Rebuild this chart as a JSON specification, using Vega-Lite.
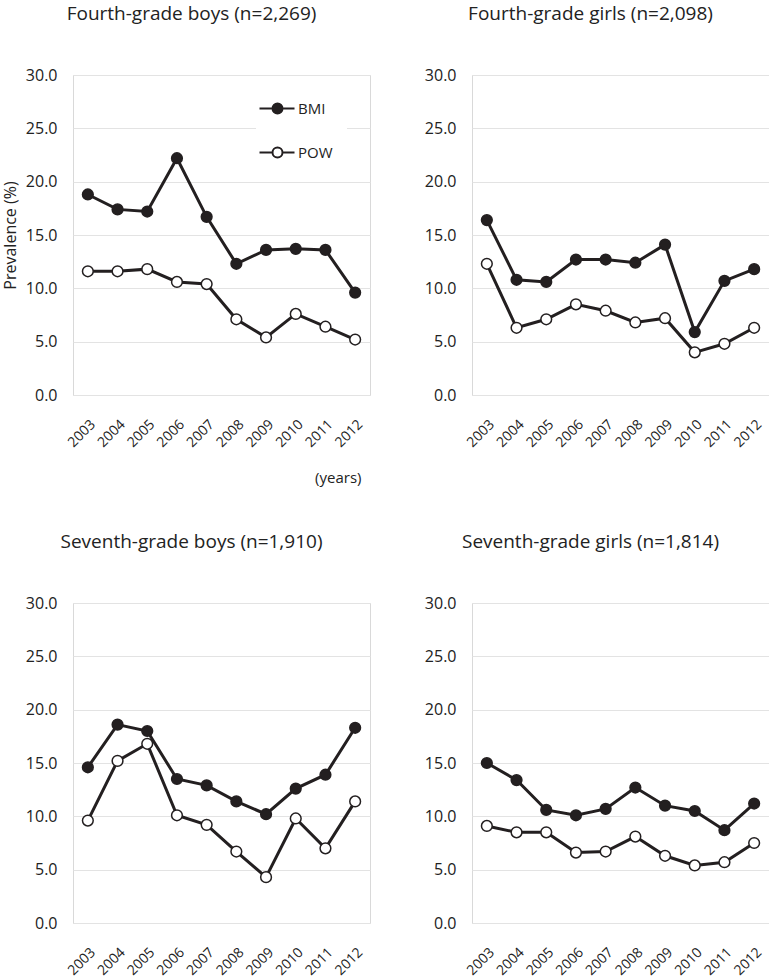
{
  "$schema": "https://vega.github.io/schema/vega-lite/v6.json",
  "padding": {"left": 1, "top": 4, "right": 1, "bottom": 0},
  "background": "white",
  "config": {
    "font": "Open Sans",
    "view": {"stroke": "#d9d9d9", "strokeWidth": 1},
    "title": {"fontSize": 19, "fontWeight": "normal", "color": "#222222", "anchor": "middle", "frame": "group", "dx": -30, "offset": 43, "baseline": "alphabetic"},
    "axis": {"labelFont": "Open Sans", "labelFontSize": 16, "labelColor": "#222222", "ticks": false, "domain": false, "titleFont": "Open Sans", "titleFontWeight": "normal", "titleFontSize": 16, "titleColor": "#222222"},
    "axisX": {"labelAngle": -45, "labelFontSize": 14, "grid": false, "labelPadding": 22},
    "axisY": {"gridColor": "#e3e3e3", "labelPadding": 16, "titlePadding": 7}
  },
  "data": {
    "values": [
      {"panel": "4B", "measure": "BMI", "year": "2003", "value": 18.8},
      {"panel": "4B", "measure": "BMI", "year": "2004", "value": 17.4},
      {"panel": "4B", "measure": "BMI", "year": "2005", "value": 17.2},
      {"panel": "4B", "measure": "BMI", "year": "2006", "value": 22.2},
      {"panel": "4B", "measure": "BMI", "year": "2007", "value": 16.7},
      {"panel": "4B", "measure": "BMI", "year": "2008", "value": 12.3},
      {"panel": "4B", "measure": "BMI", "year": "2009", "value": 13.6},
      {"panel": "4B", "measure": "BMI", "year": "2010", "value": 13.7},
      {"panel": "4B", "measure": "BMI", "year": "2011", "value": 13.6},
      {"panel": "4B", "measure": "BMI", "year": "2012", "value": 9.6},
      {"panel": "4B", "measure": "POW", "year": "2003", "value": 11.6},
      {"panel": "4B", "measure": "POW", "year": "2004", "value": 11.6},
      {"panel": "4B", "measure": "POW", "year": "2005", "value": 11.8},
      {"panel": "4B", "measure": "POW", "year": "2006", "value": 10.6},
      {"panel": "4B", "measure": "POW", "year": "2007", "value": 10.4},
      {"panel": "4B", "measure": "POW", "year": "2008", "value": 7.1},
      {"panel": "4B", "measure": "POW", "year": "2009", "value": 5.4},
      {"panel": "4B", "measure": "POW", "year": "2010", "value": 7.6},
      {"panel": "4B", "measure": "POW", "year": "2011", "value": 6.4},
      {"panel": "4B", "measure": "POW", "year": "2012", "value": 5.2},
      {"panel": "4G", "measure": "BMI", "year": "2003", "value": 16.4},
      {"panel": "4G", "measure": "BMI", "year": "2004", "value": 10.8},
      {"panel": "4G", "measure": "BMI", "year": "2005", "value": 10.6},
      {"panel": "4G", "measure": "BMI", "year": "2006", "value": 12.7},
      {"panel": "4G", "measure": "BMI", "year": "2007", "value": 12.7},
      {"panel": "4G", "measure": "BMI", "year": "2008", "value": 12.4},
      {"panel": "4G", "measure": "BMI", "year": "2009", "value": 14.1},
      {"panel": "4G", "measure": "BMI", "year": "2010", "value": 5.9},
      {"panel": "4G", "measure": "BMI", "year": "2011", "value": 10.7},
      {"panel": "4G", "measure": "BMI", "year": "2012", "value": 11.8},
      {"panel": "4G", "measure": "POW", "year": "2003", "value": 12.3},
      {"panel": "4G", "measure": "POW", "year": "2004", "value": 6.3},
      {"panel": "4G", "measure": "POW", "year": "2005", "value": 7.1},
      {"panel": "4G", "measure": "POW", "year": "2006", "value": 8.5},
      {"panel": "4G", "measure": "POW", "year": "2007", "value": 7.9},
      {"panel": "4G", "measure": "POW", "year": "2008", "value": 6.8},
      {"panel": "4G", "measure": "POW", "year": "2009", "value": 7.2},
      {"panel": "4G", "measure": "POW", "year": "2010", "value": 4.0},
      {"panel": "4G", "measure": "POW", "year": "2011", "value": 4.8},
      {"panel": "4G", "measure": "POW", "year": "2012", "value": 6.3},
      {"panel": "7B", "measure": "BMI", "year": "2003", "value": 14.6},
      {"panel": "7B", "measure": "BMI", "year": "2004", "value": 18.6},
      {"panel": "7B", "measure": "BMI", "year": "2005", "value": 18.0},
      {"panel": "7B", "measure": "BMI", "year": "2006", "value": 13.5},
      {"panel": "7B", "measure": "BMI", "year": "2007", "value": 12.9},
      {"panel": "7B", "measure": "BMI", "year": "2008", "value": 11.4},
      {"panel": "7B", "measure": "BMI", "year": "2009", "value": 10.2},
      {"panel": "7B", "measure": "BMI", "year": "2010", "value": 12.6},
      {"panel": "7B", "measure": "BMI", "year": "2011", "value": 13.9},
      {"panel": "7B", "measure": "BMI", "year": "2012", "value": 18.3},
      {"panel": "7B", "measure": "POW", "year": "2003", "value": 9.6},
      {"panel": "7B", "measure": "POW", "year": "2004", "value": 15.2},
      {"panel": "7B", "measure": "POW", "year": "2005", "value": 16.8},
      {"panel": "7B", "measure": "POW", "year": "2006", "value": 10.1},
      {"panel": "7B", "measure": "POW", "year": "2007", "value": 9.2},
      {"panel": "7B", "measure": "POW", "year": "2008", "value": 6.7},
      {"panel": "7B", "measure": "POW", "year": "2009", "value": 4.3},
      {"panel": "7B", "measure": "POW", "year": "2010", "value": 9.8},
      {"panel": "7B", "measure": "POW", "year": "2011", "value": 7.0},
      {"panel": "7B", "measure": "POW", "year": "2012", "value": 11.4},
      {"panel": "7G", "measure": "BMI", "year": "2003", "value": 15.0},
      {"panel": "7G", "measure": "BMI", "year": "2004", "value": 13.4},
      {"panel": "7G", "measure": "BMI", "year": "2005", "value": 10.6},
      {"panel": "7G", "measure": "BMI", "year": "2006", "value": 10.1},
      {"panel": "7G", "measure": "BMI", "year": "2007", "value": 10.7},
      {"panel": "7G", "measure": "BMI", "year": "2008", "value": 12.7},
      {"panel": "7G", "measure": "BMI", "year": "2009", "value": 11.0},
      {"panel": "7G", "measure": "BMI", "year": "2010", "value": 10.5},
      {"panel": "7G", "measure": "BMI", "year": "2011", "value": 8.7},
      {"panel": "7G", "measure": "BMI", "year": "2012", "value": 11.2},
      {"panel": "7G", "measure": "POW", "year": "2003", "value": 9.1},
      {"panel": "7G", "measure": "POW", "year": "2004", "value": 8.5},
      {"panel": "7G", "measure": "POW", "year": "2005", "value": 8.5},
      {"panel": "7G", "measure": "POW", "year": "2006", "value": 6.6},
      {"panel": "7G", "measure": "POW", "year": "2007", "value": 6.7},
      {"panel": "7G", "measure": "POW", "year": "2008", "value": 8.1},
      {"panel": "7G", "measure": "POW", "year": "2009", "value": 6.3},
      {"panel": "7G", "measure": "POW", "year": "2010", "value": 5.4},
      {"panel": "7G", "measure": "POW", "year": "2011", "value": 5.7},
      {"panel": "7G", "measure": "POW", "year": "2012", "value": 7.5}
    ]
  },
  "resolve": {"scale": {"fill": "independent"}, "legend": {"fill": "independent"}},
  "spacing": 46,
  "vconcat": [
    {
      "spacing": 52,
      "resolve": {"scale": {"fill": "independent"}, "legend": {"fill": "independent"}},
      "hconcat": [
        {
          "width": 297, "height": 320,
          "title": {"text": "Fourth-grade boys (n=2,269)"},
          "transform": [{"filter": {"field": "panel", "equal": "4B"}}],
          "encoding": {
            "x": {"field": "year", "type": "ordinal", "scale": {"type": "point", "padding": 0.5},
                  "axis": {"title": "(years)", "titleX": 288, "titleY": 82, "titleAlign": "right", "titleBaseline": "middle", "titleFontSize": 15}},
            "y": {"field": "value", "type": "quantitative", "scale": {"domain": [0, 30]},
                  "axis": {"title": "Prevalence (%)", "values": [0, 5, 10, 15, 20, 25, 30], "format": ".1f"}}
          },
          "layer": [
            {"mark": {"type": "line", "color": "#231f20", "strokeWidth": 3}, "encoding": {"detail": {"field": "measure"}}},
            {"mark": {"type": "point", "shape": "circle", "filled": true, "size": 115, "stroke": "#231f20", "strokeWidth": 1.5, "opacity": 1},
             "encoding": {"fill": {"field": "measure", "type": "nominal", "scale": {"domain": ["BMI", "POW"], "range": ["#231f20", "#ffffff"]},
               "legend": {"title": null, "orient": "none", "legendX": 183, "legendY": 12, "padding": 14, "fillColor": "white",
                          "symbolType": "M-3.6,0H-1M1,0H3.4M1,0A1,1,0,1,1,-1,0A1,1,0,1,1,1,0Z", "symbolSize": 100,
                          "symbolStrokeWidth": 2, "symbolStrokeColor": "#231f20", "symbolOpacity": 1,
                          "labelFontSize": 15, "labelColor": "#222222", "labelOffset": 13, "rowPadding": 25}}}}
          ]
        },
        {
          "width": 297, "height": 320,
          "title": {"text": "Fourth-grade girls (n=2,098)"},
          "transform": [{"filter": {"field": "panel", "equal": "4G"}}],
          "encoding": {
            "x": {"field": "year", "type": "ordinal", "scale": {"type": "point", "padding": 0.5}, "axis": {"title": null}},
            "y": {"field": "value", "type": "quantitative", "scale": {"domain": [0, 30]},
                  "axis": {"title": null, "values": [0, 5, 10, 15, 20, 25, 30], "format": ".1f"}}
          },
          "layer": [
            {"mark": {"type": "line", "color": "#231f20", "strokeWidth": 3}, "encoding": {"detail": {"field": "measure"}}},
            {"mark": {"type": "point", "shape": "circle", "filled": true, "size": 115, "stroke": "#231f20", "strokeWidth": 1.5, "opacity": 1},
             "encoding": {"fill": {"field": "measure", "type": "nominal", "scale": {"domain": ["BMI", "POW"], "range": ["#231f20", "#ffffff"]}, "legend": null}}}
          ]
        }
      ]
    },
    {
      "spacing": 52,
      "resolve": {"scale": {"fill": "independent"}, "legend": {"fill": "independent"}},
      "hconcat": [
        {
          "width": 297, "height": 320,
          "title": {"text": "Seventh-grade boys (n=1,910)"},
          "transform": [{"filter": {"field": "panel", "equal": "7B"}}],
          "encoding": {
            "x": {"field": "year", "type": "ordinal", "scale": {"type": "point", "padding": 0.5}, "axis": {"title": null}},
            "y": {"field": "value", "type": "quantitative", "scale": {"domain": [0, 30]},
                  "axis": {"title": " ", "values": [0, 5, 10, 15, 20, 25, 30], "format": ".1f"}}
          },
          "layer": [
            {"mark": {"type": "line", "color": "#231f20", "strokeWidth": 3}, "encoding": {"detail": {"field": "measure"}}},
            {"mark": {"type": "point", "shape": "circle", "filled": true, "size": 115, "stroke": "#231f20", "strokeWidth": 1.5, "opacity": 1},
             "encoding": {"fill": {"field": "measure", "type": "nominal", "scale": {"domain": ["BMI", "POW"], "range": ["#231f20", "#ffffff"]}, "legend": null}}}
          ]
        },
        {
          "width": 297, "height": 320,
          "title": {"text": "Seventh-grade girls (n=1,814)"},
          "transform": [{"filter": {"field": "panel", "equal": "7G"}}],
          "encoding": {
            "x": {"field": "year", "type": "ordinal", "scale": {"type": "point", "padding": 0.5}, "axis": {"title": null}},
            "y": {"field": "value", "type": "quantitative", "scale": {"domain": [0, 30]},
                  "axis": {"title": null, "values": [0, 5, 10, 15, 20, 25, 30], "format": ".1f"}}
          },
          "layer": [
            {"mark": {"type": "line", "color": "#231f20", "strokeWidth": 3}, "encoding": {"detail": {"field": "measure"}}},
            {"mark": {"type": "point", "shape": "circle", "filled": true, "size": 115, "stroke": "#231f20", "strokeWidth": 1.5, "opacity": 1},
             "encoding": {"fill": {"field": "measure", "type": "nominal", "scale": {"domain": ["BMI", "POW"], "range": ["#231f20", "#ffffff"]}, "legend": null}}}
          ]
        }
      ]
    }
  ]
}
